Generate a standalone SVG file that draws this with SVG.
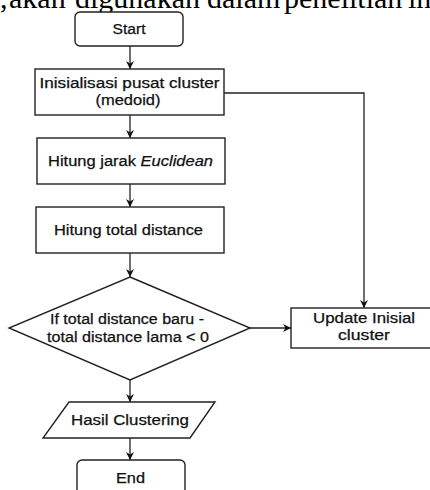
<svg xmlns="http://www.w3.org/2000/svg" width="430" height="490" viewBox="0 0 430 490">
  <defs>
    <marker id="arr" viewBox="0 0 10 10" refX="10" refY="5" markerWidth="8" markerHeight="8" markerUnits="userSpaceOnUse" orient="auto">
      <path d="M0,0 L10,5 L0,10 L3,5 z" fill="#111"/>
    </marker>
    <style>
      .shape { fill: #fff; stroke: #222; stroke-width: 1.4; }
      .lbl { font-family: "Liberation Sans", Arial, sans-serif; font-size: 14px; fill: #111; stroke: #111; stroke-width: 0.25; text-anchor: middle; }
      .conn { fill: none; stroke: #222; stroke-width: 1.3; marker-end: url(#arr); }
      .page { font-family: "Liberation Serif", "Times New Roman", serif; font-size: 30px; fill: #000; }
    </style>
  </defs>
  <rect x="0" y="0" width="430" height="490" fill="#fff"/>

  <g id="page-text">
    <text class="page" x="-15" y="7.5">g,</text>
    <text class="page" x="9" y="7.5">akan</text>
    <text class="page" x="75" y="7.5">digunakan</text>
    <text class="page" x="207" y="7.5">dalam</text>
    <text class="page" x="284" y="7.5">penelitian</text>
    <text class="page" x="408" y="7.5">ini</text>
  </g>

  <g id="connectors">
    <line class="conn" x1="130" y1="46" x2="130" y2="69"/>
    <line class="conn" x1="130" y1="115" x2="130" y2="138"/>
    <line class="conn" x1="130" y1="184" x2="130" y2="207"/>
    <line class="conn" x1="130" y1="253" x2="130" y2="277"/>
    <line class="conn" x1="130" y1="380" x2="130" y2="402"/>
    <line class="conn" x1="130" y1="438" x2="130" y2="460"/>
    <line class="conn" x1="250" y1="328" x2="291" y2="328"/>
    <polyline class="conn" points="224,93 364,93 364,308"/>
  </g>

  <g id="start">
    <rect class="shape" x="75" y="12" width="108" height="34" rx="5"/>
    <text class="lbl" x="129" y="34" textLength="33" lengthAdjust="spacingAndGlyphs">Start</text>
  </g>

  <g id="init">
    <rect class="shape" x="35" y="69" width="189" height="46"/>
    <text class="lbl" x="129.5" y="88" textLength="180" lengthAdjust="spacingAndGlyphs">Inisialisasi pusat cluster</text>
    <text class="lbl" x="128" y="105" textLength="65" lengthAdjust="spacingAndGlyphs">(medoid)</text>
  </g>

  <g id="euclid">
    <rect class="shape" x="37" y="138" width="188" height="46"/>
    <text class="lbl" x="130.5" y="166" textLength="165" lengthAdjust="spacingAndGlyphs">Hitung jarak <tspan font-style="italic">Euclidean</tspan></text>
  </g>

  <g id="total">
    <rect class="shape" x="36" y="207" width="188" height="46"/>
    <text class="lbl" x="128.5" y="235" textLength="149" lengthAdjust="spacingAndGlyphs">Hitung total distance</text>
  </g>

  <g id="decision">
    <polygon class="shape" points="130,277 250,328 130,380 9,328"/>
    <text class="lbl" x="127" y="324" textLength="154" lengthAdjust="spacingAndGlyphs">If total distance baru -</text>
    <text class="lbl" x="128" y="342" textLength="162" lengthAdjust="spacingAndGlyphs">total distance lama &lt; 0</text>
  </g>

  <g id="update">
    <rect class="shape" x="291" y="308" width="146" height="40"/>
    <text class="lbl" x="364" y="323" textLength="102" lengthAdjust="spacingAndGlyphs">Update Inisial</text>
    <text class="lbl" x="364" y="340" textLength="52" lengthAdjust="spacingAndGlyphs">cluster</text>
  </g>

  <g id="hasil">
    <polygon class="shape" points="69,402 215,402 190,438 43,438"/>
    <text class="lbl" x="130" y="425" textLength="118" lengthAdjust="spacingAndGlyphs">Hasil Clustering</text>
  </g>

  <g id="end">
    <rect class="shape" x="77" y="460" width="108" height="40" rx="5"/>
    <text class="lbl" x="130.5" y="483" textLength="29" lengthAdjust="spacingAndGlyphs">End</text>
  </g>
</svg>
